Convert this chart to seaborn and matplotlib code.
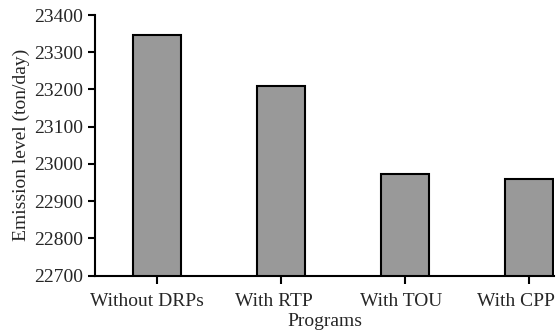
import matplotlib
matplotlib.use("Agg")
import matplotlib.pyplot as plt
import matplotlib.transforms as mtransforms
import seaborn as sns
import pandas as pd

programs = ["Without DRPs", "With RTP", "With TOU", "With CPP"]
emission = [23345, 23210, 22973, 22960]
yticks = [22700, 22800, 22900, 23000, 23100, 23200, 23300, 23400]

sns.set_style("ticks")
plt.rcParams['font.family'] = ['Liberation Serif', 'DejaVu Serif']

df = pd.DataFrame({"Programs": programs, "Emission": emission})

fig = plt.figure(figsize=(5.56, 3.34), dpi=100)
ax = fig.add_axes([95 / 556, 1 - 275.5 / 334, (554 - 95) / 556, (275.5 - 15) / 334])
sns.barplot(data=df, x="Programs", y="Emission", color="#999999", saturation=1,
            width=0.39, edgecolor="black", linewidth=1.5, ax=ax)
ax.set_ylim(22700, 23400)
ax.set_yticks(yticks)
ax.set_xlim(-0.5, 3.2)
ax.set_xlabel("Programs", fontsize=14, labelpad=2.5)
ax.set_ylabel("Emission level (ton/day)", fontsize=14, labelpad=3)
ax.tick_params(axis="both", labelsize=14, length=5, width=1.5, color="black")
ax.tick_params(axis="y", pad=3.5)
ax.tick_params(axis="x", pad=7, length=5.5)
# small horizontal nudges of the category labels, as in the reference
shifts_px = [-10, -7, -4.5, -13]
for lab, dx in zip(ax.get_xticklabels(), shifts_px):
    lab.set_transform(lab.get_transform() + mtransforms.ScaledTranslation(dx / 100, 0, fig.dpi_scale_trans))
for s in ["top", "right"]:
    ax.spines[s].set_visible(False)
for s in ["left", "bottom"]:
    ax.spines[s].set_linewidth(1.5)
    ax.spines[s].set_color("black")
fig.savefig("out.png", dpi=100)
